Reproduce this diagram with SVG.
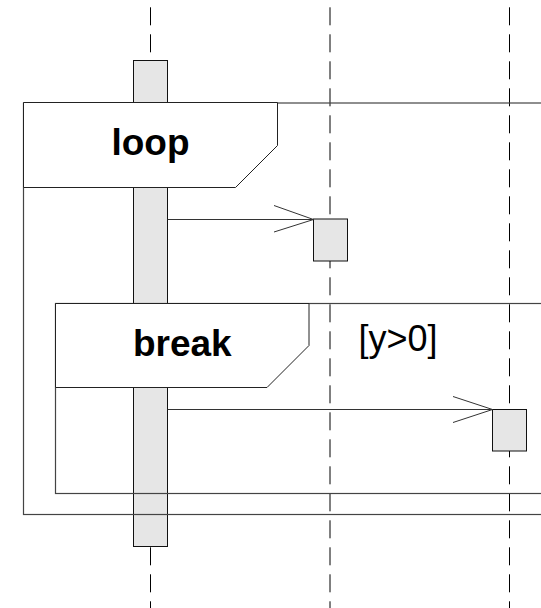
<svg xmlns="http://www.w3.org/2000/svg" width="541" height="608" viewBox="0 0 541 608">
  <style>
    .life { stroke: #000; stroke-width: 1; stroke-dasharray: 18 9; fill: none; }
    .frame { fill: none; stroke: #444; stroke-width: 1.2; }
    .tag { fill: #fff; stroke: #222; stroke-width: 1; }
    .act { fill: #e6e6e6; stroke: #111; stroke-width: 1; }
    .msg { stroke: #333; stroke-width: 1; fill: none; }
    .kw { font-family: "Liberation Sans", Arial, sans-serif; font-weight: bold; font-size: 37px; fill: #000; text-anchor: middle; }
    .guard { font-family: "Liberation Sans", Arial, sans-serif; font-size: 36px; fill: #000; text-anchor: start; }
  </style>
  <rect width="541" height="608" fill="#fff"/>

  <g id="lifelines">
    <line class="life" x1="150.5" y1="7.3" x2="150.5" y2="608"/>
    <line class="life" x1="330" y1="7.3" x2="330" y2="608" stroke="#555"/>
    <line class="life" x1="509.5" y1="7.3" x2="509.5" y2="608"/>
  </g>

  <g id="activation-main">
    <rect class="act" x="133.5" y="60.5" width="34" height="486"/>
  </g>

  <g id="loop-frame">
    <rect class="frame" x="23.5" y="103" width="600" height="411.5"/>
    <path class="tag" d="M23.5,102.5 H277.5 V145.5 L235.5,187.5 H23.5 Z"/>
    <text class="kw" x="150.5" y="154.5">loop</text>
  </g>

  <g id="break-frame">
    <rect class="frame" x="55.5" y="303.5" width="600" height="190"/>
    <path class="tag" d="M55.5,303.5 H309 V345.5 L267,387.5 H55.5 Z"/>
    <text class="kw" x="182.3" y="356">break</text>
    <text class="guard" x="358.5" y="350.5">[y&gt;0]</text>
  </g>

  <g id="activation-b">
    <rect class="act" x="313.5" y="219" width="34" height="42"/>
  </g>

  <g id="activation-c">
    <rect class="act" x="492.5" y="409.5" width="34" height="41.5"/>
  </g>

  <g id="connectors">
    <line class="msg" x1="167.5" y1="219.5" x2="313.5" y2="219.5"/>
    <polyline class="msg" points="274,205.5 313.5,219.5 274,232"/>
    <line class="msg" x1="167.5" y1="409.5" x2="492.5" y2="409.5"/>
    <polyline class="msg" points="453,396.5 492.5,409.5 453,422.5"/>
  </g>
</svg>
